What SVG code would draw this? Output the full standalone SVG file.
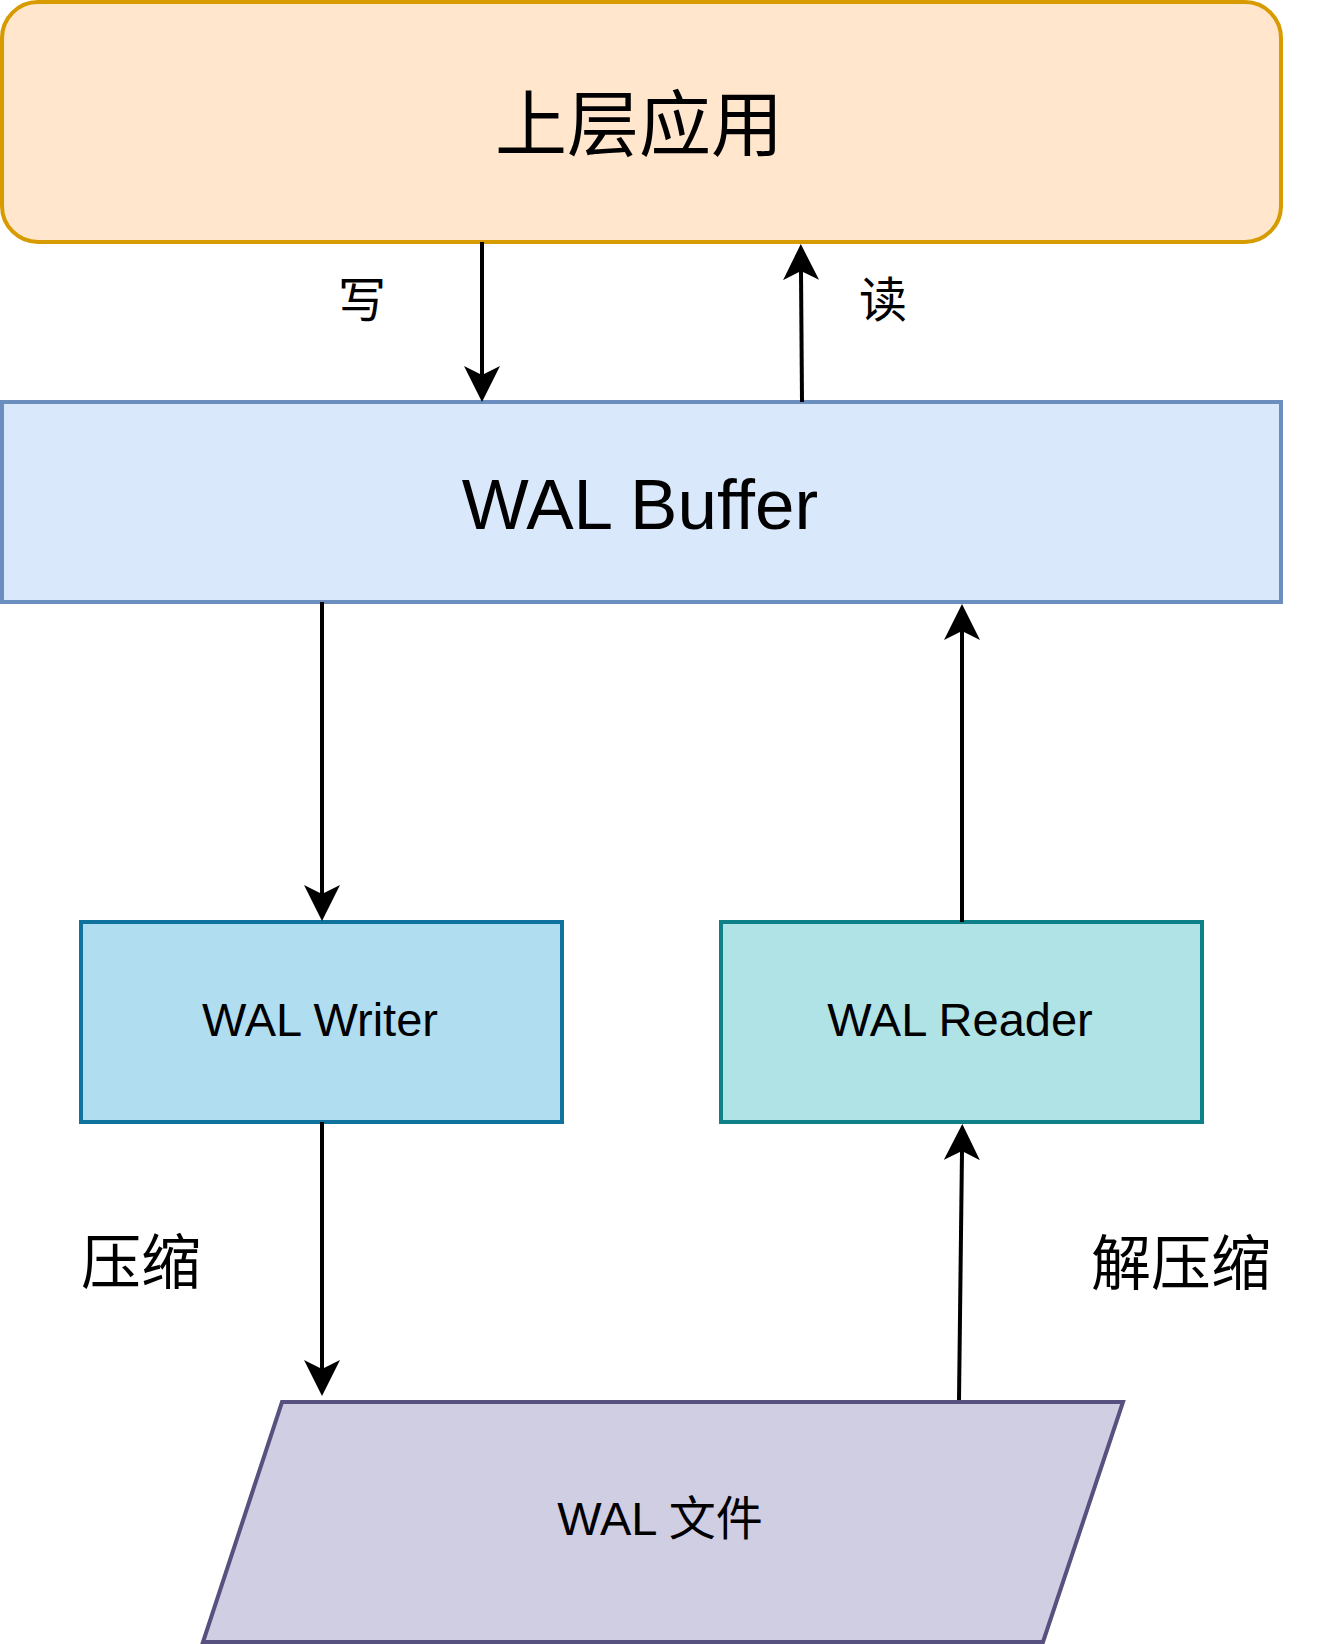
<svg xmlns="http://www.w3.org/2000/svg" width="1324" height="1644" viewBox="0 0 1324 1644">
  <style>
    .lbl { font-family: "Liberation Sans", Arial, "Noto Sans CJK SC", sans-serif; fill: #000000; text-anchor: middle; }
    .cjk { font-family: "Noto Sans CJK SC", "Liberation Sans", sans-serif; fill: #000000; text-anchor: middle; }
    .edge { fill: none; stroke: #000000; stroke-width: 4; marker-end: url(#arrow); }
  </style>
  <defs>
    <marker id="arrow" markerUnits="userSpaceOnUse" markerWidth="36" markerHeight="36" viewBox="0 0 36 36" refX="9" refY="18" orient="auto">
      <path d="M36,18 L0,0 L9,18 L0,36 Z" fill="#000000"/>
    </marker>
  </defs>
  <rect x="0" y="0" width="1324" height="1644" fill="#ffffff"/>

  <g id="app">
    <rect x="2" y="2" width="1279" height="240" rx="36" ry="36" fill="#ffe6cc" stroke="#d79b00" stroke-width="4"/>
    <text class="cjk" x="639" y="150" font-size="72">上层应用</text>
  </g>

  <g id="wal-buffer">
    <rect x="2" y="402" width="1279" height="200" fill="#dae8fc" stroke="#6c8ebf" stroke-width="4"/>
    <text class="lbl" x="640" y="529" font-size="71">WAL Buffer</text>
  </g>

  <g id="wal-writer">
    <rect x="81" y="922" width="481" height="200" fill="#b1ddf0" stroke="#10739e" stroke-width="4"/>
    <text class="lbl" x="320" y="1036" font-size="47">WAL Writer</text>
  </g>

  <g id="wal-reader">
    <rect x="721" y="922" width="481" height="200" fill="#b0e3e6" stroke="#0e8088" stroke-width="4"/>
    <text class="lbl" x="960" y="1036" font-size="47">WAL Reader</text>
  </g>

  <g id="wal-file">
    <polygon points="282,1402 1123,1402 1043,1642 203,1642" fill="#d0cee2" stroke="#56517e" stroke-width="4"/>
    <text class="lbl" x="660" y="1535" font-size="47">WAL 文件</text>
  </g>

  <g id="connectors">
    <path class="edge" d="M482,242 L482,375"/>
    <path class="edge" d="M802,402 L801,271"/>
    <path class="edge" d="M322,602 L322,894"/>
    <path class="edge" d="M962,922 L962,631"/>
    <path class="edge" d="M322,1122 L322,1369"/>
    <path class="edge" d="M959,1400 L962,1151"/>
  </g>

  <g id="edge-labels">
    <text class="cjk" x="362" y="317" font-size="48">写</text>
    <text class="cjk" x="883" y="317" font-size="48">读</text>
    <text class="cjk" x="141" y="1284" font-size="60">压缩</text>
    <text class="cjk" x="1181" y="1285" font-size="60">解压缩</text>
  </g>
</svg>
